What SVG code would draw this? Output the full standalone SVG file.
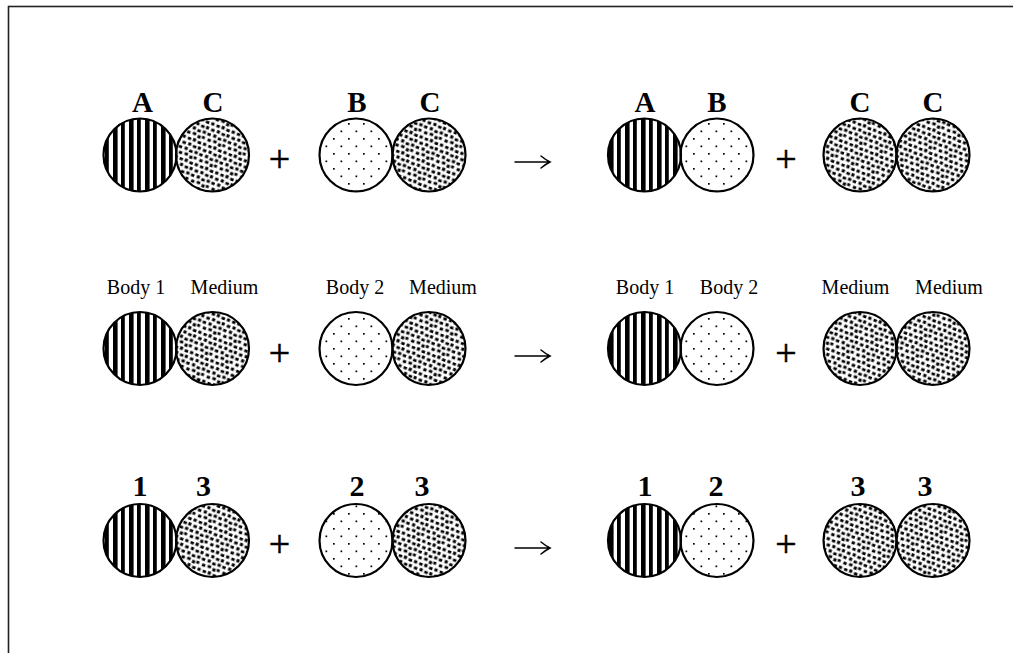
<svg xmlns="http://www.w3.org/2000/svg" width="1013" height="653" viewBox="0 0 1013 653">
  <defs>
    <!-- Body 1: vertical stripes -->
    <pattern id="stripes" width="16" height="16" patternUnits="userSpaceOnUse" x="1">
      <rect x="0" y="0" width="4.6" height="16" fill="#000"/>
      <rect x="8" y="0" width="3.8" height="16" fill="#000"/>
    </pattern>
    <!-- Body 2: sparse dots -->
    <pattern id="dots" width="15" height="15" patternUnits="userSpaceOnUse">
      <rect x="3" y="3" width="1.7" height="1.7" fill="#000"/>
      <rect x="10.5" y="10.5" width="1.7" height="1.7" fill="#000"/>
    </pattern>
    <!-- Medium: dense speckle of small blocks, tilted to break up the grid -->
    <pattern id="speckle" width="22" height="22" patternUnits="userSpaceOnUse" patternTransform="rotate(22)">
      <g fill="#000">
        <rect x="0.5" y="0.9" width="3.5" height="2.8"/>
        <rect x="6.6" y="0.2" width="3.1" height="3.2"/>
        <rect x="11.8" y="1.4" width="3.6" height="2.7"/>
        <rect x="17.4" y="0.5" width="3.2" height="3.0"/>
        <rect x="2.8" y="6.3" width="3.4" height="2.9"/>
        <rect x="8.6" y="5.6" width="3.6" height="2.8"/>
        <rect x="14.3" y="6.7" width="3.1" height="3.2"/>
        <rect x="18.6" y="5.9" width="3.0" height="2.8"/>
        <rect x="0.2" y="11.7" width="3.2" height="3.0"/>
        <rect x="5.8" y="12.0" width="3.5" height="2.7"/>
        <rect x="11.2" y="11.2" width="3.1" height="3.3"/>
        <rect x="16.5" y="12.2" width="3.6" height="2.8"/>
        <rect x="2.4" y="17.6" width="3.5" height="2.9"/>
        <rect x="8.4" y="16.9" width="3.0" height="3.2"/>
        <rect x="13.6" y="17.8" width="3.6" height="2.7"/>
        <rect x="18.8" y="17.1" width="3.0" height="3.2"/>
      </g>
    </pattern>
  </defs>
  <style>
    .ball { stroke: #000; stroke-width: 2.2; }
    .b1 { fill: url(#stripes); }
    .b2 { fill: url(#dots); }
    .md { fill: url(#speckle); }
    .big { font-family: "Liberation Serif", "Times New Roman", serif; font-weight: bold; font-size: 29px; text-anchor: middle; fill: #000; }
    .num { font-family: "Liberation Serif", "Times New Roman", serif; font-weight: bold; font-size: 30px; text-anchor: middle; fill: #000; }
    .lbl { font-family: "Liberation Serif", "Times New Roman", serif; font-size: 20px; text-anchor: middle; fill: #000; }
    .op { font-family: "Liberation Serif", "Times New Roman", serif; font-size: 38px; text-anchor: middle; fill: #000; stroke: #000; stroke-width: 0.5; }
    .arrow { stroke: #000; stroke-width: 1.5; fill: none; stroke-linecap: round; }
  </style>

  <rect width="1013" height="653" fill="#fff"/>
  <!-- outer frame (only top and left edges fall inside the view) -->
  <rect x="8.5" y="6.5" width="1100" height="1000" fill="none" stroke="#222" stroke-width="1.6"/>

  <!-- Row 1: letters -->
  <g id="r1-a1"><circle class="ball b1" cx="140" cy="155" r="36.5"/><text class="big" x="142.5" y="112">A</text></g>
  <g id="r1-c1"><circle class="ball md" cx="212.5" cy="155" r="36.5"/><text class="big" x="213" y="112">C</text></g>
  <g id="r1-b1"><circle class="ball b2" cx="356" cy="155" r="36.5"/><text class="big" x="357" y="112">B</text></g>
  <g id="r1-c2"><circle class="ball md" cx="429" cy="155" r="36.5"/><text class="big" x="430" y="112">C</text></g>
  <g id="r1-a2"><circle class="ball b1" cx="644.5" cy="155" r="36.5"/><text class="big" x="645" y="112">A</text></g>
  <g id="r1-b2"><circle class="ball b2" cx="717" cy="155" r="36.5"/><text class="big" x="717" y="112">B</text></g>
  <g id="r1-c3"><circle class="ball md" cx="860" cy="155" r="36.5"/><text class="big" x="860" y="112">C</text></g>
  <g id="r1-c4"><circle class="ball md" cx="933" cy="155" r="36.5"/><text class="big" x="933" y="112">C</text></g>
  <g id="r1-plus"><text class="op" x="279.5" y="172">+</text><text class="op" x="786" y="172">+</text></g>

  <!-- Row 2: names -->
  <g id="r2-body1a"><circle class="ball b1" cx="140" cy="348.5" r="36.5"/><text class="lbl" x="136" y="294">Body 1</text></g>
  <g id="r2-med1"><circle class="ball md" cx="212.5" cy="348.5" r="36.5"/><text class="lbl" x="224.5" y="294">Medium</text></g>
  <g id="r2-body2a"><circle class="ball b2" cx="356" cy="348.5" r="36.5"/><text class="lbl" x="355" y="294">Body 2</text></g>
  <g id="r2-med2"><circle class="ball md" cx="429" cy="348.5" r="36.5"/><text class="lbl" x="443" y="294">Medium</text></g>
  <g id="r2-body1b"><circle class="ball b1" cx="644.5" cy="348.5" r="36.5"/><text class="lbl" x="645" y="294">Body 1</text></g>
  <g id="r2-body2b"><circle class="ball b2" cx="717" cy="348.5" r="36.5"/><text class="lbl" x="729" y="294">Body 2</text></g>
  <g id="r2-med3"><circle class="ball md" cx="860" cy="348.5" r="36.5"/><text class="lbl" x="855.5" y="294">Medium</text></g>
  <g id="r2-med4"><circle class="ball md" cx="933" cy="348.5" r="36.5"/><text class="lbl" x="949" y="294">Medium</text></g>
  <g id="r2-plus"><text class="op" x="279.5" y="366">+</text><text class="op" x="786" y="366">+</text></g>

  <!-- Row 3: numbers -->
  <g id="r3-n1a"><circle class="ball b1" cx="140" cy="540.5" r="36.5"/><text class="num" x="140" y="496">1</text></g>
  <g id="r3-n3a"><circle class="ball md" cx="212.5" cy="540.5" r="36.5"/><text class="num" x="203.5" y="496">3</text></g>
  <g id="r3-n2a"><circle class="ball b2" cx="356" cy="540.5" r="36.5"/><text class="num" x="357" y="496">2</text></g>
  <g id="r3-n3b"><circle class="ball md" cx="429" cy="540.5" r="36.5"/><text class="num" x="422" y="496">3</text></g>
  <g id="r3-n1b"><circle class="ball b1" cx="644.5" cy="540.5" r="36.5"/><text class="num" x="645" y="496">1</text></g>
  <g id="r3-n2b"><circle class="ball b2" cx="717" cy="540.5" r="36.5"/><text class="num" x="716" y="496">2</text></g>
  <g id="r3-n3c"><circle class="ball md" cx="860" cy="540.5" r="36.5"/><text class="num" x="858" y="496">3</text></g>
  <g id="r3-n3d"><circle class="ball md" cx="933" cy="540.5" r="36.5"/><text class="num" x="925" y="496">3</text></g>
  <g id="r3-plus"><text class="op" x="279.5" y="557">+</text><text class="op" x="786" y="557">+</text></g>

  <!-- reaction arrows -->
  <g id="connectors">
    <path class="arrow" d="M515 162 H550 M541 156 Q546 160 550 162 Q546 164 541 168"/>
    <path class="arrow" d="M515 356 H550 M541 350 Q546 354 550 356 Q546 358 541 362"/>
    <path class="arrow" d="M515 548 H550 M541 542 Q546 546 550 548 Q546 550 541 554"/>
  </g>
</svg>
